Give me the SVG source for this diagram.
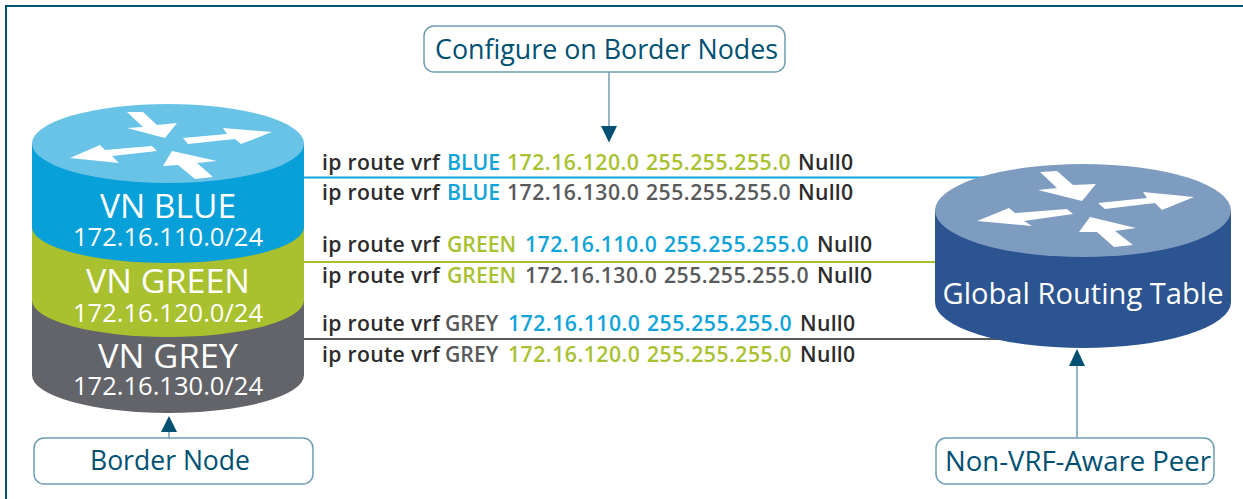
<svg xmlns="http://www.w3.org/2000/svg" width="1243" height="499" viewBox="0 0 1243 499">
<style>
.box{fill:#fff;stroke:#6f9db3;stroke-width:1.5}
.lbl{font:27px "Open Sans","Noto Sans",sans-serif;fill:#005073;text-anchor:middle}
.vn{font:33px "Open Sans","Noto Sans",sans-serif;fill:#fff;text-anchor:middle}
.net{font:26px "Open Sans","Noto Sans",sans-serif;fill:#fff;text-anchor:middle}
.rt{font:600 21.2px "Open Sans","Noto Sans",sans-serif;fill:#2b2b2b}
.b{fill:#0fa3d9}.g{fill:#a9c12f}.y{fill:#58595b}
.n{letter-spacing:.5px}
.p{letter-spacing:.3px}
.arr{stroke:#6f9db3;stroke-width:1.5;fill:none}
.head{fill:#005073}
.ico{fill:#fff}
</style>
<path d="M6 499V6H1243" fill="none" stroke="#005073" stroke-width="2"/>
<g id="connectors">
<line x1="304" y1="177.500" x2="985" y2="177.500" stroke="#0fa3d9" stroke-width="2"/>
<line x1="304" y1="262" x2="940" y2="262" stroke="#a9c12f" stroke-width="2"/>
<line x1="304" y1="339" x2="1000" y2="339" stroke="#58595b" stroke-width="2"/>
<line class="arr" x1="609" y1="72" x2="609" y2="128"/>
<polygon class="head" points="601,126 617,126 609,142.500"/>
<line class="arr" x1="169" y1="438" x2="169" y2="430"/>
<polygon class="head" points="161,432 177,432 169,416"/>
<line class="arr" x1="1077" y1="437" x2="1077" y2="365"/>
<polygon class="head" points="1069,366 1085,366 1077,349"/>
</g>
<g id="border-node">
<path d="M32 375V300H304V375A136 38 0 0 1 32 375Z" fill="#626469"/>
<path d="M32 300V227H304V300A136 37 0 0 1 32 300Z" fill="#a9c12f"/>
<path d="M32 143V227A136 36 0 0 0 304 227V143Z" fill="#07a0d8"/>
<ellipse cx="168" cy="143.500" rx="136" ry="39.500" fill="#69c3e7"/>
<g class="ico" transform="translate(168 143)">
<polygon points="-41,-31 -25,-31 -11,-18 9,-20 -3,-5 -41,-15 -25,-16"/>
<polygon points="15,-5 59,-9 55,-15 104,-11 73,1 67,-4 20,1"/>
<polygon points="-98,15 -68,2 -63,7 -16,3 -11,8 -56,13 -49,20"/>
<polygon points="-5,23 4,8 49,18 29,20 45,34 27,36 10,22"/>
</g>
<text class="vn" x="168" y="218" textLength="136" lengthAdjust="spacingAndGlyphs">VN BLUE</text>
<text class="net" x="168" y="246" textLength="190" lengthAdjust="spacingAndGlyphs">172.16.110.0/24</text>
<text class="vn" x="168" y="293" textLength="164" lengthAdjust="spacingAndGlyphs">VN GREEN</text>
<text class="net" x="168" y="322" textLength="190" lengthAdjust="spacingAndGlyphs">172.16.120.0/24</text>
<text class="vn" x="168" y="368" textLength="140" lengthAdjust="spacingAndGlyphs">VN GREY</text>
<text class="net" x="168" y="395" textLength="190" lengthAdjust="spacingAndGlyphs">172.16.130.0/24</text>
</g>
<g id="global-routing-table">
<path d="M935 210V302A148 46 0 0 0 1231 302V210Z" fill="#2b5491"/>
<ellipse cx="1083" cy="210.500" rx="148" ry="46.500" fill="#7e9bc0"/>
<g class="ico" transform="translate(1083 209)">
<polygon points="-43,-37 -26,-38 -10,-24 13,-25 -1,-8 -45,-19 -26,-21"/>
<polygon points="15,-6 64,-11 60,-17 111,-12 79,1 72,-6 22,0"/>
<polygon points="-106,12 -74,-1 -68,4 -16,0 -10,5 -59,12 -51,17"/>
<polygon points="-4,23 7,8 53,19 32,22 50,36 31,38 14,23"/>
</g>
<text class="lbl" x="1083" y="304" style="fill:#fff;font-size:29px" textLength="281" lengthAdjust="spacingAndGlyphs">Global Routing Table</text>
</g>
<g id="configure"><rect class="box" x="424" y="26" width="361" height="46" rx="10"/><text class="lbl" x="606.500" y="59" textLength="343" lengthAdjust="spacingAndGlyphs">Configure on Border Nodes</text></g>
<g id="border-label"><rect class="box" x="34" y="438" width="279" height="46" rx="10"/><text class="lbl" x="170" y="470" textLength="160" lengthAdjust="spacingAndGlyphs">Border Node</text></g>
<g id="peer-label"><rect class="box" x="936" y="438" width="278" height="46" rx="10"/><text class="lbl" x="1078" y="471" textLength="266" lengthAdjust="spacingAndGlyphs">Non-VRF-Aware Peer</text></g>
<g id="routes">
<text class="rt" y="170"><tspan class="p" x="322">ip route vrf </tspan><tspan class="b" x="447">BLUE </tspan><tspan class="g n" x="507">172.16.120.0 </tspan><tspan class="g n" x="646">255.255.255.0 </tspan><tspan class="p" x="798">Null0</tspan></text>
<text class="rt" y="200"><tspan class="p" x="322">ip route vrf </tspan><tspan class="b" x="447">BLUE </tspan><tspan class="y n" x="507">172.16.130.0 </tspan><tspan class="y n" x="646">255.255.255.0 </tspan><tspan class="p" x="798">Null0</tspan></text>
<text class="rt" y="252"><tspan class="p" x="322">ip route vrf </tspan><tspan class="g" x="447">GREEN </tspan><tspan class="b n" x="525">172.16.110.0 </tspan><tspan class="b n" x="664">255.255.255.0 </tspan><tspan class="p" x="817">Null0</tspan></text>
<text class="rt" y="283"><tspan class="p" x="322">ip route vrf </tspan><tspan class="g" x="447">GREEN </tspan><tspan class="y n" x="525">172.16.130.0 </tspan><tspan class="y n" x="664">255.255.255.0 </tspan><tspan class="p" x="817">Null0</tspan></text>
<text class="rt" y="331"><tspan class="p" x="322">ip route vrf </tspan><tspan class="y" x="445">GREY </tspan><tspan class="b n" x="508">172.16.110.0 </tspan><tspan class="b n" x="647">255.255.255.0 </tspan><tspan class="p" x="800">Null0</tspan></text>
<text class="rt" y="362"><tspan class="p" x="322">ip route vrf </tspan><tspan class="y" x="445">GREY </tspan><tspan class="g n" x="508">172.16.120.0 </tspan><tspan class="g n" x="647">255.255.255.0 </tspan><tspan class="p" x="800">Null0</tspan></text>
</g>
</svg>
